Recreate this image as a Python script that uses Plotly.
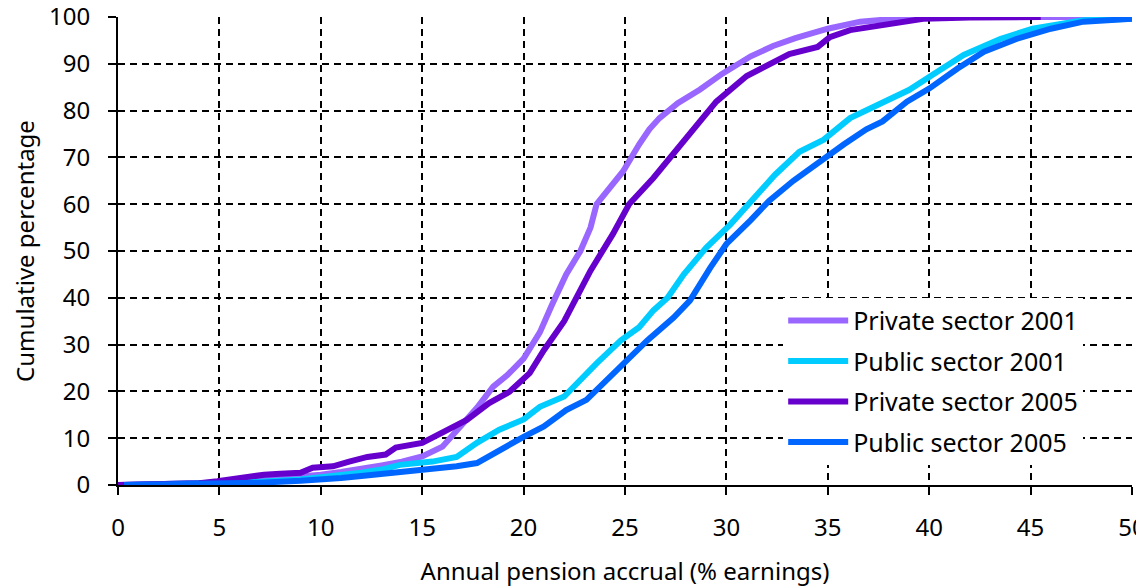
import plotly.graph_objects as go

# Private sector 2001
priv01_x = [0, 2, 4, 5, 6, 7, 8, 9, 10, 11, 12, 13, 14, 15, 16, 16.9, 17.7, 18.5, 19.2, 20, 20.8, 21.4,
            22.1, 22.8, 23.3, 23.6, 24.3, 24.9, 25.7, 26.2, 26.7, 27.6, 28.7, 29.8, 31.2, 32.3, 33.4, 35,
            36.6, 38, 39.4, 42, 46, 48]
priv01_y = [0, 0.1, 0.3, 0.5, 0.7, 1, 1.3, 1.7, 2.2, 2.8, 3.4, 4.2, 5, 6.1, 8.2, 12.5, 16.5, 21, 23.5, 27,
            32.6, 38.5, 45, 50, 55, 60, 64, 67, 72.8, 76, 78.4, 81.6, 84.5, 87.9, 91.6, 93.8, 95.5, 97.5,
            99, 99.6, 100, 100, 100, 100]

# Public sector 2001
pub01_x = [0.3, 3, 5, 7, 9, 10, 11, 12, 13, 13.9, 15.5, 16.7, 17.7, 18.8, 20, 20.8, 22, 22.6, 23.6, 24.8,
           25.7, 26.4, 27.1, 27.9, 29, 30.2, 31.2, 32.4, 33.6, 34.8, 36.1, 37.7, 39, 40.4, 41.7, 43.5,
           45.1, 47.6, 50]
pub01_y = [0, 0.2, 0.4, 0.7, 1.2, 1.6, 2.1, 2.6, 3.3, 4.3, 5, 6, 9, 11.8, 14, 16.7, 18.9, 21.7, 26, 30.9,
           33.7, 37.3, 40, 45, 50.7, 55.7, 60.7, 66.3, 71.2, 73.8, 78.4, 81.9, 84.4, 88.3, 91.9, 95.3,
           97.5, 99.3, 99.6]

# Private sector 2005
priv05_x = [0, 2, 4, 4.9, 6, 7.2, 8, 9, 9.6, 10.6, 11.4, 12.3, 13.2, 13.7, 15, 16, 17.2, 18.3, 19.3,
            20.3, 21, 22, 22.6, 23.3, 24.4, 25.2, 26.4, 27.6, 28.4, 29.5, 31, 32, 33.1, 34.5, 35.1,
            36.1, 37.7, 39.7, 42, 45.5]
priv05_y = [0, 0.1, 0.4, 0.8, 1.6, 2.2, 2.4, 2.6, 3.7, 4, 5, 6, 6.5, 8, 9, 11.1, 13.9, 17.5, 19.9,
            23.9, 28.8, 35, 40, 45.8, 53.6, 60, 65.6, 72, 76.2, 81.9, 87.4, 89.8, 92.1, 93.6, 95.7,
            97.2, 98.3, 99.6, 99.9, 100]

# Public sector 2005
pub05_x = [0.3, 3, 5, 7, 9, 10, 11, 12, 13, 13.9, 15.5, 16.7, 17.7, 18.8, 20, 21, 22.1, 23.1, 24.1,
           24.9, 26.1, 27.4, 28.2, 29.2, 30, 31.2, 32.1, 33.3, 34.6, 35.8, 36.9, 37.7, 38.9, 40, 41.4,
           42.7, 44.3, 46, 47.6, 50]
pub05_y = [0, 0.1, 0.3, 0.5, 0.9, 1.1, 1.5, 1.9, 2.3, 2.6, 3.3, 4, 4.7, 7.5, 10.3, 12.5, 16, 18.2,
           22.4, 26, 30.9, 35.8, 39.4, 46.4, 51.5, 56.6, 60.7, 65, 69.2, 72.8, 76, 77.7, 81.9, 84.7,
           89, 92.6, 95.3, 97.5, 99, 99.6]

series = [
    ("Private sector 2001", priv01_x, priv01_y, "#9966ff"),
    ("Public sector 2001", pub01_x, pub01_y, "#00ccff"),
    ("Private sector 2005", priv05_x, priv05_y, "#6600cc"),
    ("Public sector 2005", pub05_x, pub05_y, "#0066ff"),
]

x_ticks = [0, 5, 10, 15, 20, 25, 30, 35, 40, 45, 50]
y_ticks = [0, 10, 20, 30, 40, 50, 60, 70, 80, 90, 100]

FONT = "Noto Sans"
FS = 24

fig = go.Figure()
for i, (name, xs, ys, col) in enumerate(series):
    fig.add_trace(go.Scatter(x=xs, y=ys, mode="lines", name=name, legendgroup=f"g{i}",
                             line=dict(color=col, width=6)))

axis_common = dict(
    showline=True, linecolor="black", linewidth=2,
    ticks="outside", ticklen=8, tickwidth=2, tickcolor="black",
    showgrid=True, gridcolor="black", gridwidth=1.5, griddash="7px,5px",
    zeroline=False, automargin=False, ticklabeloverflow="allow",
    tickfont=dict(family=FONT, size=FS, color="black"),
)

fig.update_xaxes(range=[0, 50], tickvals=x_ticks, ticklabelstandoff=12,
                 title=dict(text="Annual pension accrual (% earnings)", standoff=26,
                            font=dict(family=FONT, size=FS, color="black")),
                 **axis_common)
fig.update_yaxes(range=[0, 100], tickvals=y_ticks, ticklabelstandoff=13,
                 title=dict(text="Cumulative percentage", standoff=43,
                            font=dict(family=FONT, size=FS, color="black")),
                 **axis_common)

# the page body adds an 8px offset, so the figure is sized/margined to compensate
fig.update_layout(
    width=1136, height=579,
    margin=dict(l=110, r=12, t=9, b=102),
    plot_bgcolor="white", paper_bgcolor="white",
    font=dict(family=FONT, size=FS, color="black"),
    legend=dict(x=0.656, y=0.40, xanchor="left", yanchor="top", bgcolor="white",
                borderwidth=0, tracegroupgap=5, traceorder="grouped",
                itemwidth=60, font=dict(family=FONT, size=25, color="black")),
)

fig.write_html("out.html")
